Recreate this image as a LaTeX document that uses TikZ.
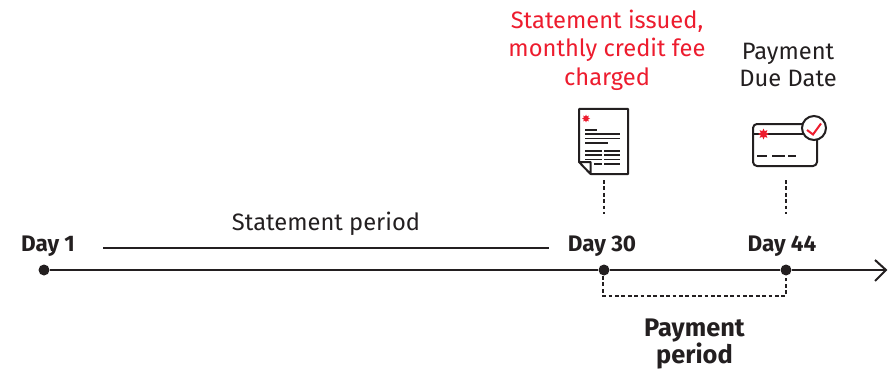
\documentclass[tikz,border=0pt]{standalone}
\usepackage{fontspec}
\setmainfont{Fira Sans}
\usetikzlibrary{shapes.geometric}
\definecolor{ink}{HTML}{231F20}
\definecolor{alert}{HTML}{ED1C2E}
\tikzset{
  lbl/.style={font=\fontsize{23.7}{28}\selectfont,text=ink,inner sep=0pt,align=center},
  bold/.style={lbl,font=\fontsize{22.5}{28}\selectfont\bfseries},
  boldb/.style={lbl,font=\fontsize{25.4}{27}\selectfont\bfseries},
  redlbl/.style={lbl,text=alert,font=\fontsize{23.7}{28.5}\selectfont},
  blk/.style={lbl,font=\fontsize{23.7}{27.5}\selectfont},
  dot/.style={circle,fill=ink,inner sep=0pt,minimum size=11pt},
  axisline/.style={draw=ink,line width=2pt},
  dots/.style={draw=ink,line width=1.9pt,dash pattern=on 3.8pt off 2.6pt},
  icon/.style={draw=ink,line width=2pt,line join=round},
  thin/.style={draw=ink,line width=1.6pt},
  burst/.style={star,star points=8,star point ratio=1.8,fill=alert,inner sep=0pt},
}
\begin{document}
\begin{tikzpicture}[x=1pt,y=-1pt]
\useasboundingbox (0,0) rectangle (895,369);
% timeline
\node[dot] (d1) at (44,270) {};
\node[dot] (d30) at (604,270) {};
\node[dot] (d44) at (786,270) {};
\coordinate (end) at (886,270);
\draw[axisline] (d1) -- (d30);
\draw[axisline] (d30) -- (d44);
\draw[axisline] (d44) -- (end);
\draw[axisline,line join=miter] (875,260) -- (end) -- (875,281);
\node[bold] (l1) at (48,246) {Day 1};
\node[bold] (l30) at (602,246) {Day 30};
\node[bold] (l44) at (782,246) {Day 44};
\node[lbl] (sp) at (326,224) {Statement period};
\coordinate (sa) at (103,248); \coordinate (sb) at (549,248);
\draw[axisline] (sa) -- (sb);
\node[redlbl] (issued) at (607,50) {Statement issued,\\monthly credit fee\\charged};
\node[blk] (due) at (788,65) {Payment\\Due Date};
\node[boldb] (pp) at (694.500,344) {Payment\\period};
% payment bracket
\coordinate (ba) at (603,276); \coordinate (bb) at (603,296);
\coordinate (bc) at (786,296); \coordinate (bd) at (786,276);
\draw[dots] (ba) -- (bb) -- (bc) -- (bd);
% document icon
\coordinate (docb) at (604,180); \coordinate (doce) at (604,213.800);
\draw[dots] (docb) -- (doce);
\draw[icon] (590.500,174) -- (628,174) -- (628,109) -- (579,109) -- (579,162) -- (590.500,174) -- (590.500,162) -- (579,162);
\node[burst,minimum size=8pt] (s1) at (586,118.500) {};
\draw[thin] (585,129.700) -- (597,129.700);
\draw[thin] (585,134) -- (620,134) (585,138.500) -- (620,138.500) (585,143) -- (608,143);
\draw[thin] (585,151) -- (602,151) (604,151) -- (620,151)
  (585,155) -- (602,155) (604,155) -- (620,155)
  (585,159.500) -- (602,159.500) (604,159.500) -- (620,159.500)
  (594,164) -- (602,164) (604,164) -- (620,164);
% card icon
\coordinate (cardb) at (786,180); \coordinate (carde) at (786,213.800);
\draw[dots] (cardb) -- (carde);
\draw[icon,rounded corners=4pt] (803,124) -- (753,124) -- (753,166) -- (817,166) -- (817,139);
\draw[icon] (753,134) -- (803,134);
\node[burst,minimum size=11pt] (s2) at (763.500,134) {};
\node[circle,draw=ink,line width=2pt,fill=white,minimum size=24pt,inner sep=0pt] (chk) at (814,128) {};
\draw[alert,line width=2pt,line join=miter] (807,130) -- (813,134.500) -- (821,123.500);
\draw[thin] (757,156) -- (767,156) (772,156) -- (785,156) (788,156) -- (796,156);
\end{tikzpicture}
\end{document}
